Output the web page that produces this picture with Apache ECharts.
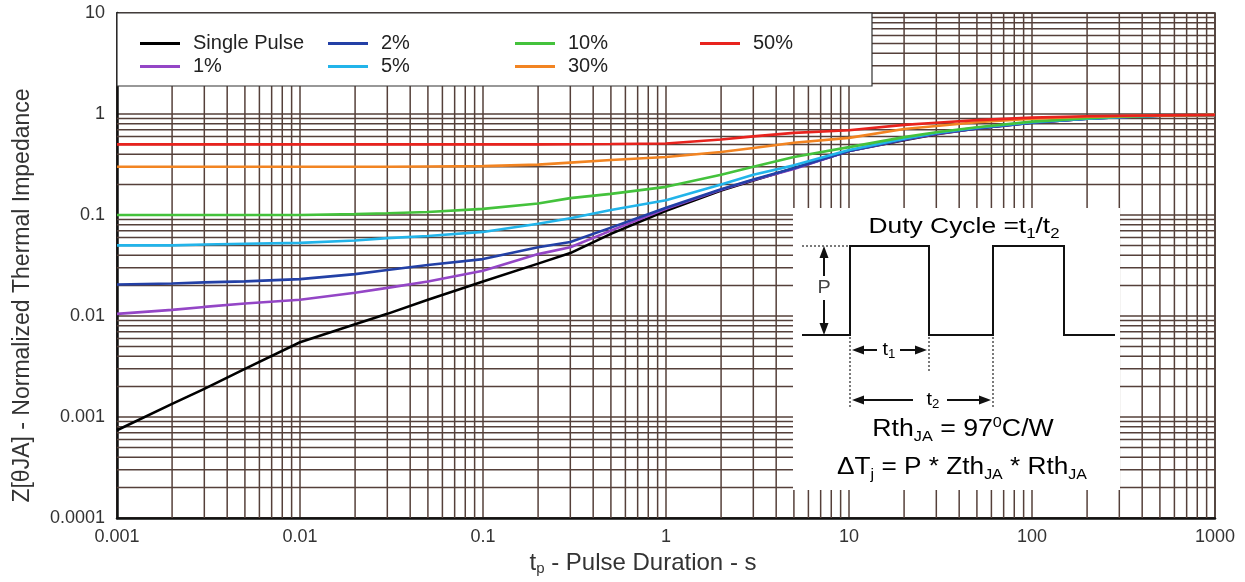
<!DOCTYPE html>
<html><head><meta charset="utf-8">
<script src="https://cdn.jsdelivr.net/npm/echarts@6/dist/echarts.min.js"></script>
<style>html,body{margin:0;padding:0;background:#fff}#c{width:1245px;height:582px}</style>
</head><body><div id="c"></div>
<script>
// ---- data ----
const pulseDuration = [0.001,0.002,0.003,0.005,0.01,0.02,0.03,0.05,0.1,0.2,0.3,0.5,1,2,3,5,10,20,30,50,100,200,300,500,1000];
const singlePulse = [0.00074,0.00135,0.0019,0.003,0.0055,0.0083,0.0105,0.0145,0.022,0.033,0.042,0.065,0.11,0.175,0.22,0.29,0.43,0.55,0.63,0.72,0.82,0.9,0.93,0.96,0.98];
const duty1  = [0.0105,0.0115,0.0123,0.0133,0.0145,0.017,0.019,0.022,0.028,0.041,0.048,0.07,0.115,0.178,0.222,0.285,0.43,0.555,0.635,0.72,0.82,0.9,0.93,0.96,0.98];
const duty2  = [0.0205,0.021,0.0215,0.022,0.0232,0.026,0.0285,0.032,0.0366,0.048,0.054,0.075,0.118,0.18,0.225,0.29,0.43,0.56,0.64,0.72,0.82,0.9,0.93,0.96,0.98];
const duty5  = [0.05,0.05,0.051,0.052,0.053,0.056,0.059,0.062,0.068,0.082,0.093,0.112,0.14,0.2,0.25,0.31,0.44,0.57,0.65,0.73,0.83,0.9,0.93,0.96,0.98];
const duty10 = [0.1,0.1,0.1,0.1,0.1,0.102,0.104,0.107,0.115,0.13,0.147,0.162,0.19,0.25,0.3,0.375,0.47,0.59,0.66,0.74,0.84,0.91,0.94,0.96,0.98];
const duty30 = [0.3,0.3,0.3,0.3,0.3,0.3,0.3,0.302,0.305,0.315,0.33,0.35,0.375,0.42,0.46,0.52,0.58,0.71,0.76,0.83,0.9,0.94,0.95,0.965,0.98];
const duty50 = [0.5,0.5,0.5,0.5,0.5,0.5,0.5,0.5,0.5,0.5,0.502,0.505,0.51,0.56,0.6,0.65,0.69,0.78,0.82,0.87,0.92,0.95,0.96,0.97,0.98];
const seriesNames = ['Single Pulse','1%','2%','5%','10%','30%','50%'];
const seriesColors = ['#000000','#9446c6','#2340a6','#22b4ea','#44c23c','#f28422','#e8231e'];
const xTickLabels = ['0.001','0.01','0.1','1','10','100','1000'];
const yTickLabels = ['0.0001','0.001','0.01','0.1','1','10'];
const minorMultipliers = [2,3,4,5,6,7,8,9];

const FONT = 'Liberation Sans, Arial, sans-serif';
const gridColor = '#55403a';

const xDecades = xTickLabels.slice(0,-1).map(Number);
const yDecades = yTickLabels.slice(0,-1).map(Number);
const xMinor = [], yMinor = [];
xDecades.forEach(d => minorMultipliers.forEach(m => xMinor.push([d*m, 1])));
yDecades.forEach(d => minorMultipliers.forEach(m => yMinor.push([1, d*m])));

const allSeries = [singlePulse,duty1,duty2,duty5,duty10,duty30,duty50];
const series = allSeries.map((arr,i) => ({
  name: seriesNames[i], type:'line', symbol:'none', z:3,
  color: seriesColors[i],
  lineStyle:{width:2.6, color: seriesColors[i]},
  data: pulseDuration.map((x,j)=>[x, arr[j]]),
  animation:false
}));
series.push({
  type:'custom', z:1, silent:true, animation:false,
  data: xMinor, encode:{x:0,y:1},
  renderItem:(p,api)=>{
    const v = api.value(0);
    const a = api.coord([v, 0.0001]), b = api.coord([v, 10]);
    return {type:'line', shape:{x1:a[0],y1:a[1],x2:b[0],y2:b[1]}, style:{stroke:gridColor, lineWidth:1.5}};
  }
});
series.push({
  type:'custom', z:1, silent:true, animation:false,
  data: yMinor, encode:{x:0,y:1},
  renderItem:(p,api)=>{
    const v = api.value(1);
    const a = api.coord([0.001, v]), b = api.coord([1000, v]);
    return {type:'line', shape:{x1:a[0],y1:a[1],x2:b[0],y2:b[1]}, style:{stroke:gridColor, lineWidth:1.5}};
  }
});

const legendBase = {orient:'vertical', top:28, itemWidth:40, itemHeight:3, itemGap:2, icon:'rect', selectedMode:false,
  textStyle:{fontSize:20, fontFamily:FONT, color:'#222', lineHeight:21, padding:[0,0,0,8]}};
const legends = [
  Object.assign({}, legendBase, {left:135, data:['Single Pulse','1%']}),
  Object.assign({}, legendBase, {left:323, data:['2%','5%']}),
  Object.assign({}, legendBase, {left:510, data:['10%','30%']}),
  Object.assign({}, legendBase, {left:695, data:['50%']})
];

const txtRich = (size) => ({
  a:{fontSize:size, fontFamily:FONT, color:'#111', lineHeight:28},
  s:{fontSize:Math.round(size*0.62), fontFamily:FONT, color:'#111', lineHeight:14, verticalAlign:'bottom'},
  u:{fontSize:Math.round(size*0.62), fontFamily:FONT, color:'#111', lineHeight:20, verticalAlign:'top'}
});
const K = '#111';
const smallRich = {a:{fontSize:18,fontFamily:FONT,color:'#111',lineHeight:22},s:{fontSize:12,fontFamily:FONT,color:'#111',lineHeight:11,verticalAlign:'bottom'}};
const graphics = [
  {type:'rect', z:2, shape:{x:117, y:13, width:755, height:73}, style:{fill:'#fff', stroke:'#333', lineWidth:1.2}},
  {type:'rect', z:2, shape:{x:793, y:208, width:327, height:282}, style:{fill:'#fff'}},
  {type:'text', z:3, x:964, y:227, scaleX:1.2, style:{text:'{a|Duty Cycle =t}{s|1}{a|/t}{s|2}', rich:txtRich(22), align:'center', verticalAlign:'middle'}},
  {type:'polyline', z:3, shape:{points:[[802,335],[850,335],[850,246],[929,246],[929,335],[993,335],[993,246],[1064,246],[1064,335],[1115,335]]}, style:{stroke:K, lineWidth:2, fill:null}},
  {type:'line', z:3, shape:{x1:802,y1:246,x2:849,y2:246}, style:{stroke:'#333', lineWidth:1.3, lineDash:[2,2]}},
  {type:'line', z:3, shape:{x1:850,y1:337,x2:850,y2:407}, style:{stroke:'#333', lineWidth:1.3, lineDash:[2,2]}},
  {type:'line', z:3, shape:{x1:929,y1:337,x2:929,y2:372}, style:{stroke:'#333', lineWidth:1.3, lineDash:[2,2]}},
  {type:'line', z:3, shape:{x1:993,y1:337,x2:993,y2:407}, style:{stroke:'#333', lineWidth:1.3, lineDash:[2,2]}},
  // P arrow
  {type:'line', z:3, shape:{x1:824,y1:255,x2:824,y2:276}, style:{stroke:K, lineWidth:2}},
  {type:'line', z:3, shape:{x1:824,y1:300,x2:824,y2:326}, style:{stroke:K, lineWidth:2}},
  {type:'polygon', z:3, shape:{points:[[824,246],[819.5,258],[828.5,258]]}, style:{fill:K}},
  {type:'polygon', z:3, shape:{points:[[824,335],[819.5,323],[828.5,323]]}, style:{fill:K}},
  {type:'text', z:3, x:824, y:288, scaleX:1.1, style:{text:'P', fontSize:18, fontFamily:FONT, fill:'#444', align:'center', verticalAlign:'middle'}},
  // t1 arrow
  {type:'line', z:3, shape:{x1:860,y1:350,x2:877,y2:350}, style:{stroke:K, lineWidth:2}},
  {type:'line', z:3, shape:{x1:900,y1:350,x2:919,y2:350}, style:{stroke:K, lineWidth:2}},
  {type:'polygon', z:3, shape:{points:[[852,350],[864,345.5],[864,354.5]]}, style:{fill:K}},
  {type:'polygon', z:3, shape:{points:[[927,350],[915,345.5],[915,354.5]]}, style:{fill:K}},
  {type:'text', z:3, x:889, y:350, scaleX:1.1, style:{text:'{a|t}{s|1}', rich:smallRich, align:'center', verticalAlign:'middle'}},
  // t2 arrow
  {type:'line', z:3, shape:{x1:860,y1:400,x2:913,y2:400}, style:{stroke:K, lineWidth:2}},
  {type:'line', z:3, shape:{x1:947,y1:400,x2:983,y2:400}, style:{stroke:K, lineWidth:2}},
  {type:'polygon', z:3, shape:{points:[[852,400],[864,395.5],[864,404.5]]}, style:{fill:K}},
  {type:'polygon', z:3, shape:{points:[[991,400],[979,395.5],[979,404.5]]}, style:{fill:K}},
  {type:'text', z:3, x:933, y:400, scaleX:1.1, style:{text:'{a|t}{s|2}', rich:smallRich, align:'center', verticalAlign:'middle'}},
  {type:'text', z:3, x:963, y:430, scaleX:1.16, style:{text:'{a|Rth}{s|JA}{a| = 97}{u|0}{a|C/W}', rich:txtRich(23), align:'center', verticalAlign:'middle'}},
  {type:'text', z:3, x:962, y:468, scaleX:1.14, style:{text:'{a|\u0394T}{s|j}{a| = P * Zth}{s|JA}{a| * Rth}{s|JA}', rich:txtRich(23), align:'center', verticalAlign:'middle'}}
];

const chart = echarts.init(document.getElementById('c'), null, {renderer:'canvas'});
chart.setOption({
  animation:false,
  backgroundColor:'#fff',
  grid:{left:117, right:30, top:13, bottom:64, show:true, borderColor:'#2a2a2a', borderWidth:1.5, containLabel:false},
  legend: legends,
  xAxis:{
    type:'log', logBase:10, min:0.001, max:1000, interval:1,
    axisLine:{show:true, lineStyle:{color:'#111', width:2.5}},
    axisTick:{show:false},
    axisLabel:{fontSize:18, fontFamily:FONT, color:'#333', margin:10,
      formatter:v => xTickLabels[Math.round(Math.log10(v))+3]},
    splitLine:{show:true, lineStyle:{color:gridColor, width:1.5}},
    name:'{t|t}{s|p}{t| - Pulse Duration - s}', nameLocation:'middle', nameGap:31,
    nameTextStyle:{padding:[0,46,0,0], rich:{t:{fontSize:24, fontFamily:FONT, color:'#333', lineHeight:26}, s:{fontSize:15, fontFamily:FONT, color:'#333', lineHeight:12, verticalAlign:'bottom'}}}
  },
  yAxis:{
    type:'log', logBase:10, min:0.0001, max:10, interval:1,
    axisLine:{show:true, lineStyle:{color:'#111', width:2.5}},
    axisTick:{show:false},
    axisLabel:{fontSize:18, fontFamily:FONT, color:'#333', margin:12,
      formatter:v => yTickLabels[Math.round(Math.log10(v))+4]},
    splitLine:{show:true, lineStyle:{color:gridColor, width:1.5}},
    name:'Z[\u03B8JA] - Normalized Thermal Impedance', nameLocation:'middle', nameGap:83, nameRotate:90,
    nameTextStyle:{fontSize:23, fontFamily:FONT, color:'#333', padding:[0,60,0,0]}
  },
  graphic: graphics,
  series: series
});
</script></body></html>
